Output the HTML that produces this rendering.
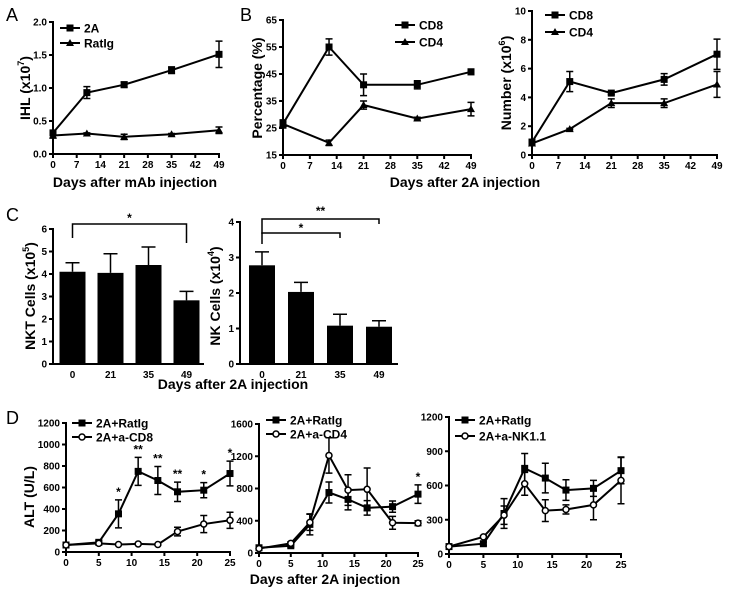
<!DOCTYPE html>
<html><head><meta charset="utf-8">
<style>
html,body{margin:0;padding:0;background:#fff;}
svg{display:block;font-family:"Liberation Sans",Arial,sans-serif;}
.t{font-size:10px;font-weight:bold;}
.ti{font-size:14px;font-weight:bold;}
.pl{font-size:18px;}
.lg{font-size:12px;font-weight:bold;}
</style></head>
<body>
<svg id="fig" width="729" height="592" viewBox="0 0 729 592"></svg>
<script>
// Panel A
const aDays=[0,10,21,35,49];
const a2A=[0.32,0.93,1.05,1.27,1.51];
const a2AErr=[0.03,0.09,0.04,0.05,0.2];
const aRat=[0.28,0.31,0.26,0.30,0.36];
const aRatErr=[0.04,0.01,0.04,0.01,0.05];
const aYTicks=[0,0.5,1.0,1.5,2.0];
const dayTicks49=[0,7,14,21,28,35,42,49];
// Panel B left
const bDays=[0,12,21,35,49];
const bCD8=[26.5,55,41,41,45.8];
const bCD8Err=[1.5,3,4,1.5,1];
const bCD4=[26.5,19.5,33.5,28.5,32];
const bCD4Err=[1,1,1.5,0.5,2.5];
const bYTicks=[15,25,35,45,55,65];
// Panel B right
const b2Days=[0,10,21,35,49];
const b2CD8=[0.9,5.1,4.3,5.25,7.0];
const b2CD8Err=[0.1,0.7,0.1,0.4,1.05];
const b2CD4=[0.8,1.8,3.6,3.6,4.9];
const b2CD4Err=[0.1,0.05,0.3,0.3,0.9];
const b2YTicks=[0,2,4,6,8,10];
// Panel C
const cCats=["0","21","35","49"];
const cNKT=[4.1,4.05,4.4,2.83];
const cNKTErr=[0.4,0.85,0.8,0.4];
const cNKTTicks=[0,1,2,3,4,5,6];
const cNK=[2.78,2.03,1.08,1.05];
const cNKErr=[0.38,0.27,0.32,0.17];
const cNKTicks=[0,1,2,3,4];
// Panel D
const dDays=[0,5,8,11,14,17,21,25];
const dRat=[65,90,355,750,665,560,575,730];
const dRatErr=[10,15,130,130,130,90,70,115];
const dCD8=[65,80,70,75,70,190,260,295];
const dCD8Err=[10,10,5,5,5,40,80,75];
const dCD4=[55,120,380,1210,780,790,375,370];
const dCD4Err=[10,20,100,220,190,265,80,30];
const dNK=[65,150,340,615,380,390,430,645];
const dNKErr=[10,10,80,100,95,40,130,205];
const dStarsL=["","","*","**","**","**","*","*"];
const dStarsM=["","","","","","","","*"];
const dXTicks=[0,5,10,15,20,25];

const svg=document.getElementById('fig');
const NS="http://www.w3.org/2000/svg";
function el(tag,attrs,parent){const e=document.createElementNS(NS,tag);for(const k in attrs)e.setAttribute(k,attrs[k]);(parent||svg).appendChild(e);return e;}
function txt(x,y,s,cls,anchor,parent){const e=el('text',{x:x,y:y,class:cls,'text-anchor':anchor||'middle'},parent);e.textContent=s;return e;}

function makeAxes(name,x0,x1,y0,y1,xmin,xmax,ymin,ymax){
  const g=el('g',{});
  
  
  const sx=v=>x0+(v-xmin)/(xmax-xmin)*(x1-x0);
  const sy=v=>y0-(v-ymin)/(ymax-ymin)*(y0-y1);
  return {g,sx,sy,x0,x1,y0,y1};
}
function yAxis(ax,ticks,fmt){
  const g=el('g',{},ax.g);
  
  
  el('line',{x1:ax.x0,x2:ax.x0,y1:ax.y0+1,y2:ax.y1-1,stroke:'#000','stroke-width':2},g);
  ticks.forEach(t=>{const y=ax.sy(t);el('line',{x1:ax.x0-4,x2:ax.x0,y1:y,y2:y,stroke:'#000','stroke-width':2},g);
    txt(ax.x0-6,y+3.5,fmt?fmt(t):String(t),'t','end',g);});
}
function xAxis(ax,ticks){
  const g=el('g',{},ax.g);
  
  
  el('line',{x1:ax.x0-1,x2:ax.x1+1,y1:ax.y0,y2:ax.y0,stroke:'#000','stroke-width':2},g);
  ticks.forEach(t=>{const x=ax.sx(t);el('line',{x1:x,x2:x,y1:ax.y0,y2:ax.y0+4,stroke:'#000','stroke-width':2},g);
    txt(x,ax.y0+14,String(t),'t','middle',g);});
}
function marker(g,type,x,y){
  if(type==='sq') return el('rect',{x:x-3.5,y:y-3.5,width:7,height:7,fill:'#000'},g);
  if(type==='tri') return el('polygon',{points:`${x},${y-4} ${x-4},${y+3} ${x+4},${y+3}`,fill:'#000'},g);
  return el('circle',{cx:x,cy:y,r:3,fill:'#fff',stroke:'#000','stroke-width':1.5},g);
}
function series(ax,name,xs,ys,errs,type){
  const g=el('g',{},ax.g);
  
  
  const pts=xs.map((x,i)=>ax.sx(x)+','+ax.sy(ys[i])).join(' ');
  el('polyline',{points:pts,fill:'none',stroke:'#000','stroke-width':2},g);
  xs.forEach((x,i)=>{
    const px=ax.sx(x),top=ax.sy(ys[i]+errs[i]),bot=ax.sy(ys[i]-errs[i]);
    const eb=el('path',{d:`M${px},${top}V${bot}M${px-3.5},${top}H${px+3.5}M${px-3.5},${bot}H${px+3.5}`,stroke:'#000','stroke-width':1.5,fill:'none'},g);
    
    
    const m=marker(g,type,px,ax.sy(ys[i]));
    
    
  });
}
function legend(x,y,label,type){
  const g=el('g',{});
  
  
  el('line',{x1:x,x2:x+20,y1:y,y2:y,stroke:'#000','stroke-width':2},g);
  marker(g,type,x+10,y);
  txt(x+24,y+4.5,label,'lg','start',g);
}
function ylabel(x,y,main,sup,name){
  const t=el('text',{x:0,y:0,class:'ti','text-anchor':'middle',transform:`translate(${x},${y}) rotate(-90)`});
  
  
  if(sup){
    t.appendChild(document.createTextNode(main));
    const s=el('tspan',{dy:-6,'font-size':9},t);s.textContent=sup;
    const c=el('tspan',{dy:6},t);c.textContent=')';
  } else t.textContent=main;
}
function panelLabel(x,y,s){const t=txt(x,y,s,'pl','start');}

// ---- A ----
panelLabel(6,21,'A');
let ax=makeAxes('panel-a-chart',53,219,154,22,0,49,0,2);
yAxis(ax,aYTicks,v=>v.toFixed(1));xAxis(ax,dayTicks49);
series(ax,'series-2a',aDays,a2A,a2AErr,'sq');
series(ax,'series-ratig',aDays,aRat,aRatErr,'tri');
legend(60,28,'2A','sq');legend(60,43,'RatIg','tri');
ylabel(30,88,'IHL (x10','7','y-axis-title-ihl');
{const t=txt(135,187,'Days after mAb injection','ti');}

// ---- B left ----
panelLabel(240,21,'B');
ax=makeAxes('panel-b-percentage-chart',283,471,155,20,0,49,15,65);
yAxis(ax,bYTicks);xAxis(ax,dayTicks49);
series(ax,'series-cd8-pct',bDays,bCD8,bCD8Err,'sq');
series(ax,'series-cd4-pct',bDays,bCD4,bCD4Err,'tri');
legend(395,25,'CD8','sq');legend(395,42,'CD4','tri');
ylabel(262,88,'Percentage (%)',null,'y-axis-title-percentage');

// ---- B right ----
ax=makeAxes('panel-b-number-chart',532,717,155,11,0,49,0,10);
yAxis(ax,b2YTicks);xAxis(ax,dayTicks49);
series(ax,'series-cd8-number',b2Days,b2CD8,b2CD8Err,'sq');
series(ax,'series-cd4-number',b2Days,b2CD4,b2CD4Err,'tri');
legend(545,15,'CD8','sq');legend(545,32,'CD4','tri');
ylabel(511,83,'Number (x10','6','y-axis-title-number');
{const t=txt(465,187,'Days after 2A injection','ti');}

// ---- C ----
panelLabel(6,221,'C');
function barChart(name,x0,x1,first,step,y0,y1,ymax,ticks,cats,vals,errs){
  const ax=makeAxes(name,x0,x1,y0,y1,0,1,0,ymax);
  yAxis(ax,ticks);
  el('line',{x1:x0-1,x2:x1,y1:y0,y2:y0,stroke:'#000','stroke-width':2},ax.g);
  const cx=i=>first+step*i;
  cats.forEach((c,i)=>{
    const h=ax.sy(vals[i]);
    const b=el('rect',{x:cx(i)-13,y:h,width:26,height:y0-h,fill:'#000'},ax.g);
    
    
    const te=ax.sy(vals[i]+errs[i]);
    el('path',{d:`M${cx(i)},${h}V${te}M${cx(i)-7},${te}H${cx(i)+7}`,stroke:'#000','stroke-width':1.5,fill:'none'},ax.g);
    txt(cx(i),y0+14,c,'t','middle',ax.g);
  });
  return {ax,cx};
}
let c1=barChart('panel-c-nkt-chart',53,204,72.5,38,364,229,6,cNKTTicks,cCats,cNKT,cNKTErr);
{const g=el('g',{});
 el('path',{d:`M${c1.cx(0)},238V224H${c1.cx(3)}V243`,stroke:'#000','stroke-width':1.5,fill:'none'},g);txt((c1.cx(0)+c1.cx(3))/2,222,'*','lg','middle',g);}
ylabel(35,296,'NKT Cells (x10','5','y-axis-title-nkt');
let c2=barChart('panel-c-nk-chart',240,398,262,39,364,222,4,cNKTicks,cCats,cNK,cNKErr);
{const g=el('g',{});
 el('path',{d:`M${c2.cx(0)},234V219H${c2.cx(3)}V224`,stroke:'#000','stroke-width':1.5,fill:'none'},g);txt((c2.cx(0)+c2.cx(3))/2,215,'**','lg','middle',g);
 el('path',{d:`M${c2.cx(0)},244V233H${c2.cx(2)}V238`,stroke:'#000','stroke-width':1.5,fill:'none'},g);txt((c2.cx(0)+c2.cx(2))/2,232,'*','lg','middle',g);}
ylabel(220,296,'NK Cells (x10','4','y-axis-title-nk');
{const t=txt(233,389,'Days after 2A injection','ti');}

// ---- D ----
panelLabel(6,424,'D');
function stars(ax,xs,ys,errs,labels){
  xs.forEach((x,i)=>{if(labels[i]){const t=txt(ax.sx(x),ax.sy(ys[i]+errs[i])-4,labels[i],'lg','middle',ax.g);}});
}
ax=makeAxes('panel-d-cd8-chart',66,230,552,423,0,25,0,1200);
yAxis(ax,[0,200,400,600,800,1000,1200]);xAxis(ax,dXTicks);
series(ax,'series-2a-ratig',dDays,dRat,dRatErr,'sq');
series(ax,'series-2a-acd8',dDays,dCD8,dCD8Err,'circ');
stars(ax,dDays,dRat,dRatErr,dStarsL);
legend(72,423,'2A+RatIg','sq');legend(72,437,'2A+a-CD8','circ');
ylabel(34,497,'ALT (U/L)',null,'y-axis-title-alt');

ax=makeAxes('panel-d-cd4-chart',259,418,553,424,0,25,0,1600);
yAxis(ax,[0,400,800,1200,1600]);xAxis(ax,dXTicks);
series(ax,'series-2a-ratig',dDays,dRat,dRatErr,'sq');
series(ax,'series-2a-acd4',dDays,dCD4,dCD4Err,'circ');
stars(ax,dDays,dRat,dRatErr,dStarsM);
legend(266,420,'2A+RatIg','sq');legend(266,434,'2A+a-CD4','circ');

ax=makeAxes('panel-d-nk-chart',449,621,554,417,0,25,0,1200);
yAxis(ax,[0,300,600,900,1200]);xAxis(ax,dXTicks);
series(ax,'series-2a-ratig',dDays,dRat,dRatErr,'sq');
series(ax,'series-2a-ank11',dDays,dNK,dNKErr,'circ');
legend(455,420,'2A+RatIg','sq');legend(455,436,'2A+a-NK1.1','circ');
{const t=txt(325,584,'Days after 2A injection','ti');}
</script>
</body></html>
